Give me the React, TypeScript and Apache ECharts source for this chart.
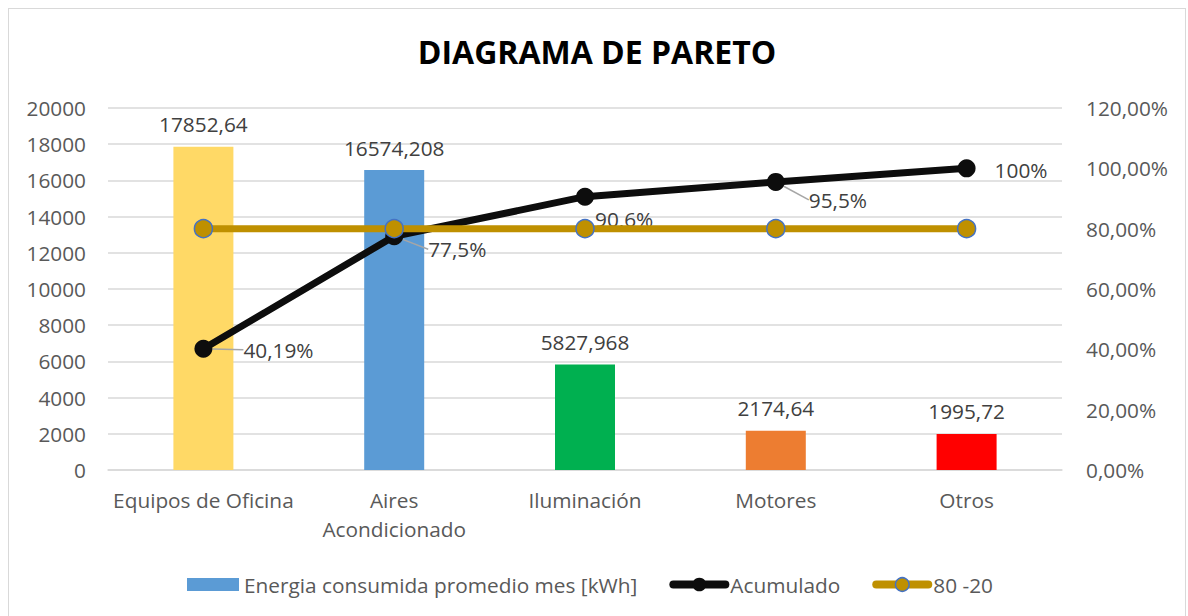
import { useEffect, useRef } from 'react';
import * as echarts from 'echarts';

const categories = ['Equipos de Oficina', 'Aires Acondicionado', 'Iluminación', 'Motores', 'Otros'];
const energia = [17852.64, 16574.208, 5827.968, 2174.64, 1995.72];
const barColors = ['#FFD966', '#5B9BD5', '#00B050', '#ED7D31', '#FF0000'];
const acumulado = [0.4019, 0.775, 0.906, 0.955, 1.0];
const acumuladoLabels = ['40,19%', '77,5%', '90,6%', '95,5%', '100%'];
const ochentaVeinte = [0.8, 0.8, 0.8, 0.8, 0.8];
const leftTicks = { min: 0, max: 20000, interval: 2000 };
const rightTicks = { min: 0, max: 1.2, interval: 0.2 };

const FONT = '"Open Sans", sans-serif';
const TXT = '#595959';
const FS = 20.8;

// label shifts (style only)
const labelShift = [
  { dx: 26, dy: 1, line: true },
  { dx: 20, dy: 13, line: true },
  { dx: -4, dy: 22, line: false },
  { dx: 19, dy: 18, line: true },
  { dx: 14, dy: 2, line: false },
];

export default function App() {
  const ref = useRef<HTMLDivElement>(null);
  useEffect(() => {
    const chart = echarts.init(ref.current!, null, { renderer: 'svg' });
    chart.setOption({
      animation: false,
      textStyle: { fontFamily: FONT },
      title: {
        text: 'DIAGRAMA DE PARETO',
        left: 'center',
        top: 21,
        textStyle: { fontFamily: FONT, fontSize: 32, fontWeight: 'bold', color: '#000' },
      },
      grid: { left: 99, top: 99, width: 954, height: 362 },
      legend: {
        left: 173,
        top: 560,
        itemWidth: 52,
        itemHeight: 17,
        itemGap: 32,
        textStyle: { fontFamily: FONT, fontSize: FS, color: TXT },
        data: [
          {
            name: 'Energia consumida promedio mes [kWh]',
            icon: 'path://M0,0h52v13h-52z',
            itemStyle: { color: '#5B9BD5' },
          },
          {
            name: 'Acumulado',
            itemStyle: { color: '#0d0d0d' },
            lineStyle: { width: 8, color: '#0d0d0d', cap: 'round' },
          },
          {
            name: '80 -20',
            itemStyle: { color: '#BF9000', borderColor: '#4472C4', borderWidth: 1.5 },
            lineStyle: { width: 8, color: '#BF9000', cap: 'round' },
          },
        ],
      },
      xAxis: {
        type: 'category',
        data: categories,
        axisLine: { lineStyle: { color: '#d9d9d9', width: 1.5 } },
        axisTick: { show: false },
        axisLabel: {
          color: TXT,
          fontSize: FS,
          fontFamily: FONT,
          margin: 15,
          lineHeight: 29,
          interval: 0,
          formatter: (v: string) => (v === 'Aires Acondicionado' ? 'Aires\nAcondicionado' : v),
        },
      },
      yAxis: [
        {
          type: 'value',
          ...leftTicks,
          axisLine: { show: false },
          axisTick: { show: false },
          splitLine: { lineStyle: { color: '#d9d9d9', width: 1.5 } },
          axisLabel: {
            color: TXT,
            fontSize: FS,
            fontFamily: FONT,
            margin: 22,
            formatter: (v: number) => String(v),
          },
        },
        {
          type: 'value',
          ...rightTicks,
          axisLine: { show: false },
          axisTick: { show: false },
          splitLine: { show: false },
          axisLabel: {
            color: TXT,
            fontSize: FS,
            fontFamily: FONT,
            margin: 24,
            formatter: (v: number) => (v * 100).toFixed(2).replace('.', ',') + '%',
          },
        },
      ],
      series: [
        {
          name: 'Energia consumida promedio mes [kWh]',
          type: 'bar',
          barWidth: 60,
          itemStyle: { color: '#5B9BD5' },
          data: energia.map((v, i) => ({ value: v, itemStyle: { color: barColors[i] } })),
          label: {
            show: true,
            position: 'top',
            distance: 12,
            color: '#404040',
            fontSize: FS,
            fontFamily: FONT,
            formatter: (p: any) => String(p.value).replace('.', ','),
          },
          z: 2,
        },
        {
          name: 'Acumulado',
          type: 'line',
          yAxisIndex: 1,
          data: acumulado.map((v, i) => ({
            value: v,
            labelLine: { show: labelShift[i].line },
          })),
          symbol: 'circle',
          symbolSize: 18,
          lineStyle: { color: '#0d0d0d', width: 7 },
          itemStyle: { color: '#0d0d0d' },
          label: {
            show: true,
            position: 'right',
            distance: 5,
            color: '#404040',
            fontSize: FS,
            fontFamily: FONT,
            formatter: (p: any) => acumuladoLabels[p.dataIndex],
          },
          labelLine: { show: true, lineStyle: { color: '#a6a6a6', width: 1.5 } },
          labelLayout: (p: any) => ({ dx: labelShift[p.dataIndex].dx, dy: labelShift[p.dataIndex].dy }),
          z: 3,
        },
        {
          name: '80 -20',
          type: 'line',
          yAxisIndex: 1,
          data: ochentaVeinte,
          symbol: 'circle',
          symbolSize: 18,
          lineStyle: { color: '#BF9000', width: 7 },
          itemStyle: { color: '#BF9000', borderColor: '#4472C4', borderWidth: 1.5 },
          z: 4,
        },
      ],
    });
    return () => chart.dispose();
  }, []);
  return (
    <div
      style={{
        position: 'fixed',
        left: 8,
        top: 8,
        width: 1178,
        height: 640,
        border: '1px solid #d9d9d9',
        boxSizing: 'border-box',
        background: '#fff',
      }}
    >
      <div ref={ref} style={{ width: 1176, height: 638 }} />
    </div>
  );
}
